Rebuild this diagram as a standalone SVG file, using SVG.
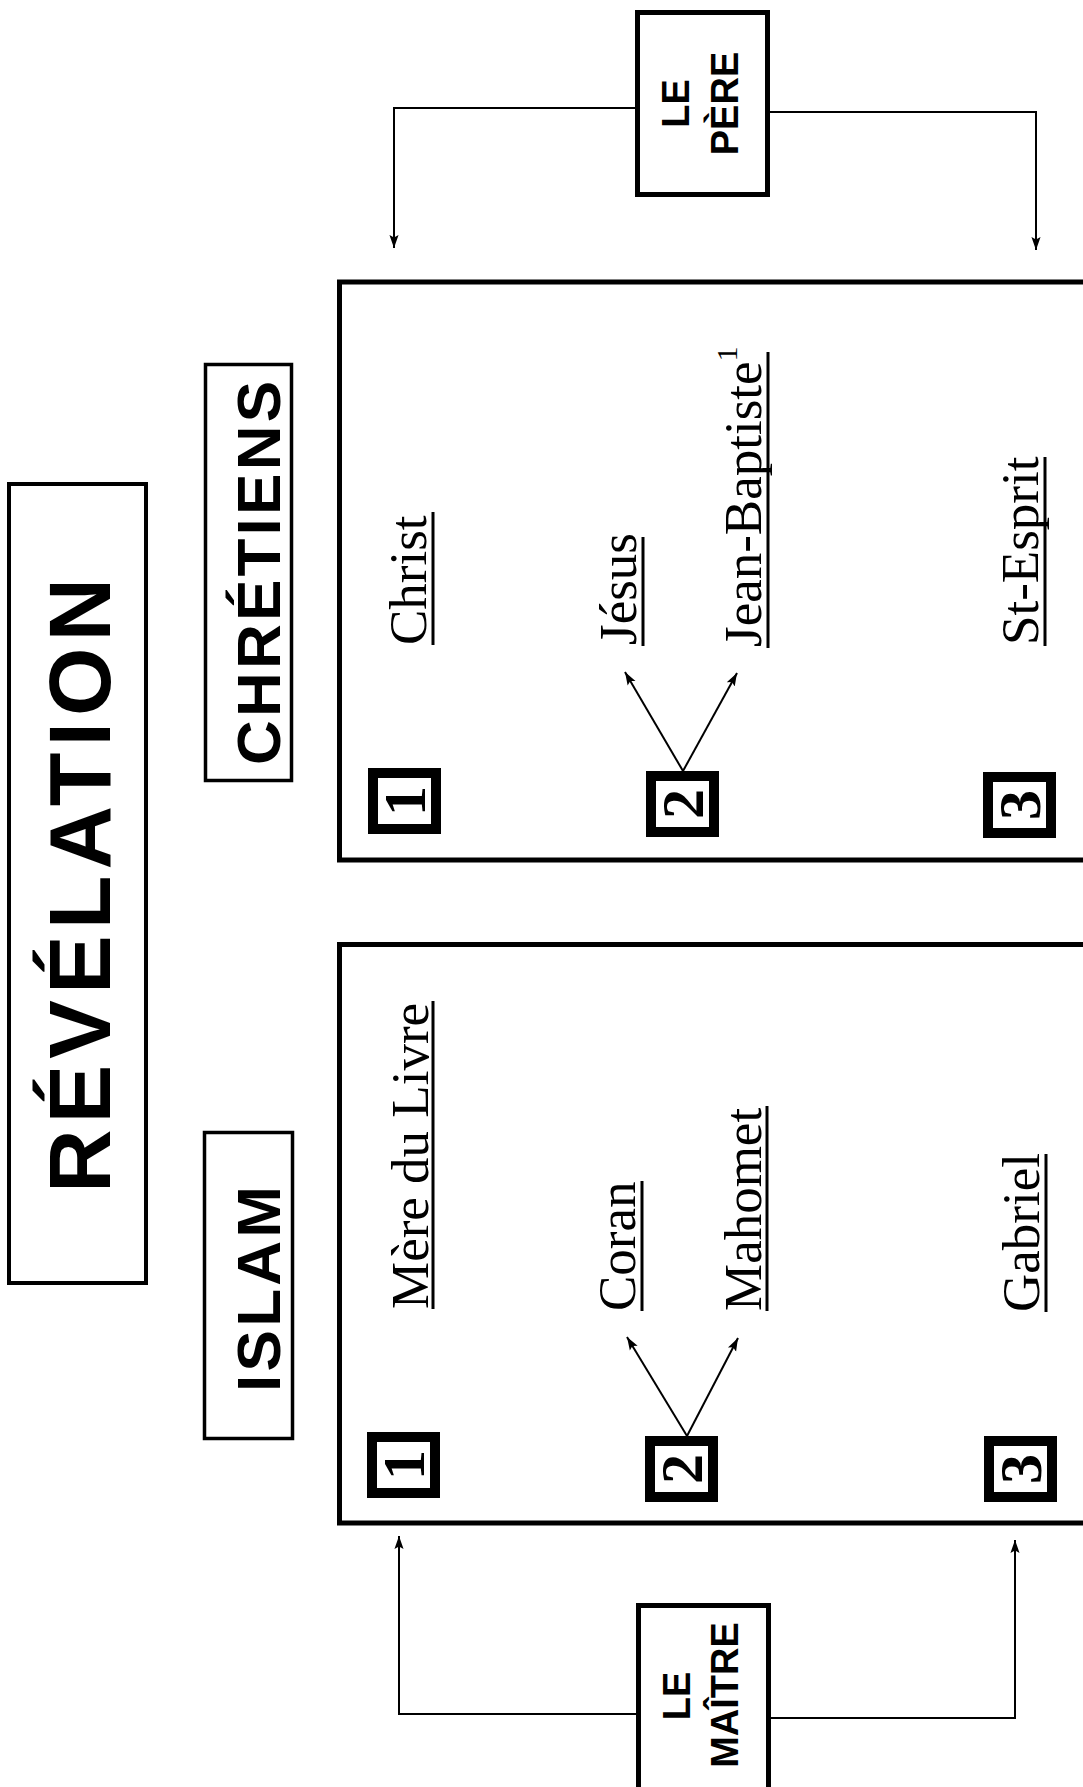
<svg xmlns="http://www.w3.org/2000/svg" width="1083" height="1787" viewBox="0 0 1083 1787">
<defs>
<style>
.box{fill:none;stroke:#000}
.sq{fill:#fff;stroke:#000;stroke-width:10}
.conn{fill:none;stroke:#000;stroke-width:2}
.ul{stroke:#000;stroke-width:3}
.hd{font-family:"Liberation Sans",Arial,sans-serif;font-weight:bold;fill:#000}
.lbl{font-family:"Liberation Serif","Times New Roman",serif;font-size:53px;fill:#000}
.num{font-family:"Liberation Serif","Times New Roman",serif;font-weight:bold;font-size:60px;text-anchor:middle;fill:#000}
.small{font-size:38px;text-anchor:middle}
</style>
<marker id="ah" viewBox="0 0 10 10" refX="10" refY="5" markerWidth="13" markerHeight="13" markerUnits="userSpaceOnUse" orient="auto">
<path d="M0,1.5 L10,5 L0,8.5 L2,5 z" fill="#000"/>
</marker>
</defs>
<rect width="1083" height="1787" fill="#fff"/>

<g id="title">
<rect class="box" x="9" y="484" width="137" height="799" stroke-width="4"/>
<text class="hd" transform="translate(110,885.5) rotate(-90)" text-anchor="middle" font-size="88" textLength="615" lengthAdjust="spacing">RÉVÉLATION</text>
</g>

<g id="chretiens">
<rect class="box" x="205.5" y="364.5" width="86" height="416" stroke-width="3.5"/>
<text class="hd" transform="translate(280,573) rotate(-90)" text-anchor="middle" font-size="62" textLength="384" lengthAdjust="spacing">CHRÉTIENS</text>
</g>

<g id="islam">
<rect class="box" x="204.5" y="1132.5" width="88" height="306" stroke-width="3.5"/>
<text class="hd" transform="translate(280,1289) rotate(-90)" text-anchor="middle" font-size="62" textLength="206" lengthAdjust="spacing">ISLAM</text>
</g>

<g id="le-pere">
<rect class="box" x="637.5" y="12.5" width="130" height="182" stroke-width="5" fill="#fff"/>
<text class="hd small" transform="translate(689,103.5) rotate(-90)">LE</text>
<text class="hd small" transform="translate(738,103.5) rotate(-90)">PÈRE</text>
</g>

<g id="le-maitre">
<rect class="box" x="638.5" y="1605.5" width="130" height="200" stroke-width="5" fill="#fff"/>
<text class="hd small" transform="translate(690,1696) rotate(-90)">LE</text>
<text class="hd small" transform="translate(738,1695) rotate(-90)">MAÎTRE</text>
</g>

<g id="box-chretiens">
<rect class="box" x="339.5" y="282" width="800" height="578" stroke-width="5"/>
</g>

<g id="box-islam">
<rect class="box" x="339.5" y="944.5" width="800" height="578.5" stroke-width="5"/>
</g>

<g id="c-1">
<rect class="sq" x="373" y="773" width="63" height="56"/>
<text class="num" transform="translate(424.5,801) rotate(-90)">1</text>
</g>
<g id="c-2">
<rect class="sq" x="651" y="776" width="63" height="56"/>
<text class="num" transform="translate(702.5,804) rotate(-90)">2</text>
</g>
<g id="c-3">
<rect class="sq" x="988" y="777" width="63" height="56"/>
<text class="num" transform="translate(1039.5,805) rotate(-90)">3</text>
</g>
<g id="i-1">
<rect class="sq" x="372" y="1437" width="63" height="56"/>
<text class="num" transform="translate(423.5,1465) rotate(-90)">1</text>
</g>
<g id="i-2">
<rect class="sq" x="650" y="1441" width="63" height="56"/>
<text class="num" transform="translate(701.5,1469) rotate(-90)">2</text>
</g>
<g id="i-3">
<rect class="sq" x="989" y="1441" width="63" height="56"/>
<text class="num" transform="translate(1040.5,1469) rotate(-90)">3</text>
</g>

<g id="christ">
<text class="lbl" transform="translate(426,645) rotate(-90)">Christ</text>
<line class="ul" x1="433" y1="512" x2="433" y2="645"/>
</g>
<g id="jesus">
<text class="lbl" transform="translate(636,645) rotate(-90)">Jésus</text>
<line class="ul" x1="643" y1="537" x2="643" y2="646"/>
</g>
<g id="jean-baptiste">
<text class="lbl" transform="translate(761,647) rotate(-90)">Jean-Baptiste<tspan dy="-24" font-size="30">1</tspan></text>
<line class="ul" x1="768" y1="352" x2="768" y2="648"/>
</g>
<g id="st-esprit">
<text class="lbl" transform="translate(1038,645) rotate(-90)">St-Esprit</text>
<line class="ul" x1="1045" y1="457" x2="1045" y2="646"/>
</g>
<g id="mere-du-livre">
<text class="lbl" transform="translate(428,1309) rotate(-90)">Mère du Livre</text>
<line class="ul" x1="433" y1="1001" x2="433" y2="1309"/>
</g>
<g id="coran">
<text class="lbl" transform="translate(635,1311) rotate(-90)">Coran</text>
<line class="ul" x1="642" y1="1181" x2="642" y2="1311"/>
</g>
<g id="mahomet">
<text class="lbl" transform="translate(761,1311) rotate(-90)">Mahomet</text>
<line class="ul" x1="767" y1="1106" x2="767" y2="1311"/>
</g>
<g id="gabriel">
<text class="lbl" transform="translate(1039,1312) rotate(-90)">Gabriel</text>
<line class="ul" x1="1046" y1="1154" x2="1046" y2="1312"/>
</g>

<g id="connectors">
<path class="conn" d="M635,108 H394 V248" marker-end="url(#ah)"/>
<path class="conn" d="M770,112 H1036 V250" marker-end="url(#ah)"/>
<path class="conn" d="M636,1714 H399 V1536" marker-end="url(#ah)"/>
<path class="conn" d="M771,1718 H1015 V1540" marker-end="url(#ah)"/>
<path class="conn" d="M683,771 L625,672" marker-end="url(#ah)"/>
<path class="conn" d="M683,771 L737,673" marker-end="url(#ah)"/>
<path class="conn" d="M687,1436 L627,1337" marker-end="url(#ah)"/>
<path class="conn" d="M687,1436 L738,1338" marker-end="url(#ah)"/>
</g>
</svg>
